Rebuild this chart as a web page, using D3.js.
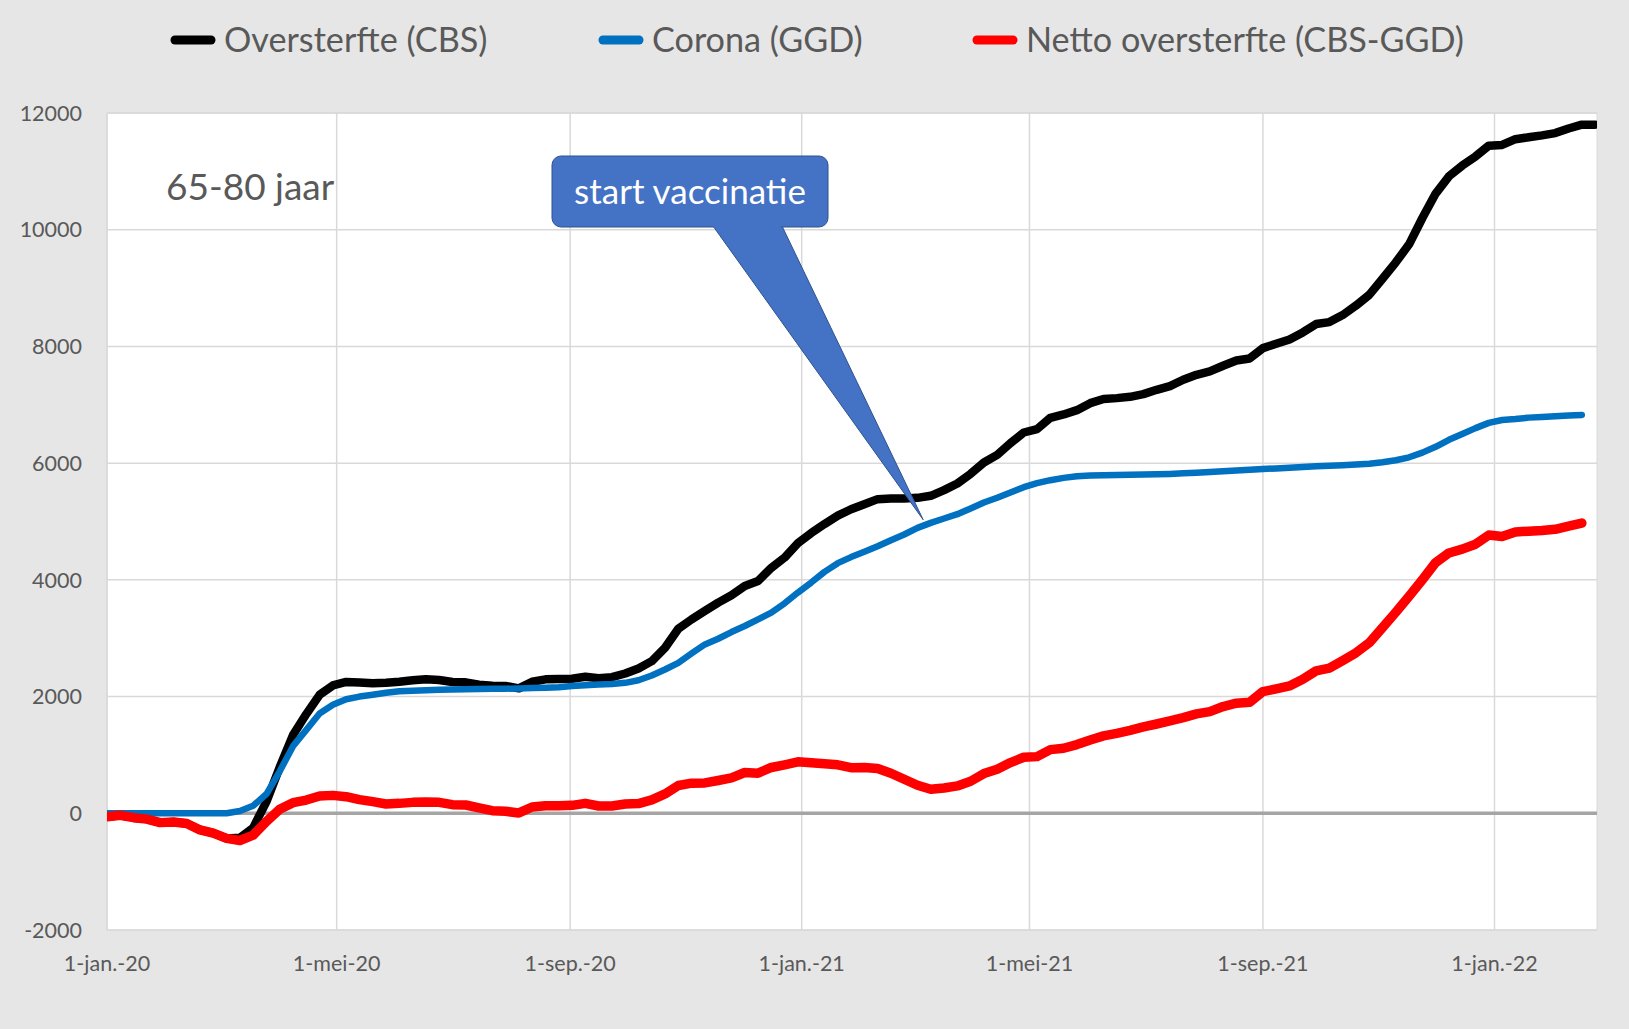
<!DOCTYPE html>
<html>
  <head>
    <meta charset="utf-8">
    <title>Oversterfte 65-80 jaar</title>
    <script src="https://d3js.org/d3.v7.min.js"></script>
    <style>
      body { margin: 0; background-color: #e6e6e6; }
      text { font-family: Lato, "Open Sans", sans-serif; }
    </style>
  </head>
  <body>
    <div id="my_dataviz"></div>
    <script>

      // weekly values, first week starts 1 jan 2020
      var startDate = Date.UTC(2020, 0, 1);

      var oversterfte = [-60, -35, -75, -100, -160, -150, -175, -285, -340, -430,
        -420, -250, 200, 790, 1340, 1700, 2030, 2190, 2250, 2240,
        2227, 2238, 2255, 2278, 2295, 2283, 2249, 2244, 2204, 2187,
        2181, 2141, 2255, 2295, 2300, 2306, 2340, 2315, 2332, 2395,
        2481, 2607, 2836, 3163, 3323, 3467, 3610, 3736, 3896, 3982,
        4206, 4383, 4630, 4802, 4956, 5100, 5210, 5297, 5383, 5394,
        5394, 5405, 5440, 5537, 5651, 5817, 6011, 6142, 6343, 6525,
        6583, 6777, 6834, 6908, 7028, 7100, 7114, 7137, 7183, 7257,
        7320, 7429, 7514, 7571, 7669, 7760, 7794, 7971, 8046, 8120,
        8240, 8383, 8417, 8537, 8700, 8884, 9159, 9441, 9750, 10200,
        10620, 10915, 11099, 11256, 11440, 11453, 11551, 11584, 11617, 11656,
        11735, 11800, 11800];

      var corona = [0, 0, 0, 0, 0, 0, 0, 0, 0, 0,
        40, 130, 330, 720, 1150, 1430, 1710, 1860, 1955, 2000,
        2030, 2065, 2090, 2100, 2110, 2115, 2120, 2125, 2130, 2135,
        2135, 2140, 2145, 2150, 2160, 2180, 2195, 2205, 2215, 2235,
        2280, 2361, 2464, 2578, 2739, 2894, 2991, 3106, 3209, 3323,
        3438, 3598, 3782, 3954, 4137, 4286, 4390, 4480, 4575, 4680,
        4777, 4891, 4977, 5051, 5126, 5223, 5325, 5406, 5497, 5588,
        5657, 5708, 5748, 5777, 5790, 5792, 5795, 5800, 5805, 5810,
        5815, 5825, 5835, 5850, 5860, 5875, 5885, 5900, 5910, 5920,
        5935, 5945, 5955, 5965, 5975, 5990, 6015, 6050, 6100, 6180,
        6280, 6400, 6500, 6600, 6690, 6740, 6755, 6780, 6790, 6805,
        6815, 6825];

      var netto = [-60, -35, -75, -100, -160, -150, -175, -285, -340, -430,
        -466, -375, -140, 68, 182, 227, 295, 307, 284, 235,
        199, 159, 170, 187, 193, 187, 148, 142, 91, 45,
        34, 6, 108, 130, 130, 136, 170, 125, 126, 160,
        166, 229, 332, 476, 516, 521, 562, 607, 699, 688,
        785, 831, 882, 865, 848, 831, 781, 783, 766, 686,
        583, 480, 411, 434, 469, 549, 680, 754, 869, 960,
        971, 1091, 1114, 1177, 1257, 1326, 1370, 1420, 1480, 1530,
        1583, 1640, 1703, 1743, 1829, 1886, 1903, 2086, 2132, 2183,
        2297, 2440, 2486, 2617, 2750, 2921, 3183, 3445, 3720, 4002,
        4297, 4461, 4526, 4611, 4768, 4742, 4821, 4834, 4847, 4867,
        4919, 4972];

      var seriesNames = ["Oversterfte (CBS)", "Corona (GGD)", "Netto oversterfte (CBS-GGD)"];
      var seriesColors = ["#000000", "#0070c0", "#ff0000"];

      var xTickDates = [Date.UTC(2020, 0, 1), Date.UTC(2020, 4, 1), Date.UTC(2020, 8, 1),
        Date.UTC(2021, 0, 1), Date.UTC(2021, 4, 1), Date.UTC(2021, 8, 1), Date.UTC(2022, 0, 1)];
      var xTickLabels = ["1-jan.-20", "1-mei-20", "1-sep.-20", "1-jan.-21", "1-mei-21", "1-sep.-21", "1-jan.-22"];
      var yTicks = [-2000, 0, 2000, 4000, 6000, 8000, 10000, 12000];

      var groupLabel = "65-80 jaar";
      var calloutText = "start vaccinatie";
      var calloutDate = Date.UTC(2021, 2, 6);
      var calloutValue = 5030;

      // set the dimensions and margins of the graph
      var W = 1629, H = 1029;
      var plot = {left: 107, right: 1597, top: 113, bottom: 930};

      var svg = d3.select("#my_dataviz")
        .append("svg")
          .attr("width", W)
          .attr("height", H);

      svg.append("rect")
        .attr("width", W).attr("height", H)
        .attr("fill", "#e6e6e6");

      var x = d3.scaleUtc()
        .domain([new Date(startDate), new Date(Date.UTC(2022, 1, 24))])
        .range([plot.left, plot.right]);

      var y = d3.scaleLinear()
        .domain([-2000, 12000])
        .range([plot.bottom, plot.top]);

      function dateOf(i) { return d3.utcDay.offset(new Date(startDate), 7 * i); }

      // plot area
      svg.append("rect")
        .attr("x", plot.left).attr("y", plot.top)
        .attr("width", plot.right - plot.left).attr("height", plot.bottom - plot.top)
        .attr("fill", "#ffffff")
        .attr("stroke", "#d9d9d9")
        .attr("stroke-width", 1);

      // gridlines
      svg.append("g")
        .selectAll("line")
        .data(yTicks)
        .join("line")
          .attr("x1", plot.left).attr("x2", plot.right)
          .attr("y1", function(d) { return y(d); })
          .attr("y2", function(d) { return y(d); })
          .attr("stroke", "#d9d9d9")
          .attr("stroke-width", 1.5);

      svg.append("g")
        .selectAll("line")
        .data(xTickDates)
        .join("line")
          .attr("x1", function(d) { return x(new Date(d)); })
          .attr("x2", function(d) { return x(new Date(d)); })
          .attr("y1", plot.top).attr("y2", plot.bottom)
          .attr("stroke", "#d9d9d9")
          .attr("stroke-width", 1.5);

      // zero line
      svg.append("line")
        .attr("x1", plot.left).attr("x2", plot.right)
        .attr("y1", y(0)).attr("y2", y(0))
        .attr("stroke", "#a5a5a5")
        .attr("stroke-width", 3.5);

      // y axis labels
      svg.append("g")
        .selectAll("text")
        .data(yTicks)
        .join("text")
          .attr("x", plot.left - 25)
          .attr("y", function(d) { return y(d); })
          .attr("dy", "0.36em")
          .attr("text-anchor", "end")
          .attr("font-size", 21.5)
          .attr("fill", "#595959")
          .text(function(d) { return d; });

      // x axis labels
      svg.append("g")
        .selectAll("text")
        .data(xTickDates)
        .join("text")
          .attr("x", function(d) { return x(new Date(d)); })
          .attr("y", 963)
          .attr("dy", "0.36em")
          .attr("text-anchor", "middle")
          .attr("font-size", 21.5)
          .attr("fill", "#595959")
          .text(function(d, i) { return xTickLabels[i]; });

      // clip the lines to the plot area
      svg.append("defs").append("clipPath")
        .attr("id", "clip")
        .append("rect")
          .attr("x", plot.left).attr("y", plot.top)
          .attr("width", plot.right - plot.left).attr("height", plot.bottom - plot.top);

      var line = d3.line()
        .x(function(d, i) { return x(dateOf(i)); })
        .y(function(d) { return y(d); });

      var series = [oversterfte, corona, netto];
      var widths = [8.5, 6.5, 9.5];

      svg.append("g")
        .attr("clip-path", "url(#clip)")
        .selectAll("path")
        .data(series)
        .join("path")
          .attr("fill", "none")
          .attr("stroke", function(d, i) { return seriesColors[i]; })
          .attr("stroke-width", function(d, i) { return widths[i]; })
          .attr("stroke-linejoin", "round")
          .attr("stroke-linecap", "round")
          .attr("d", line);

      // group label
      svg.append("text")
        .attr("x", 166)
        .attr("y", 200)
        .attr("font-size", 37)
        .attr("fill", "#595959")
        .text(groupLabel);

      // callout
      var tipX = x(new Date(calloutDate)), tipY = y(calloutValue);
      var box = {x: 552, y: 156, w: 276, h: 71, r: 9};
      var callout = svg.append("g");
      callout.append("path")
        .attr("d", "M" + (box.x + 161) + "," + (box.y + box.h - 1) +
                   "L" + tipX + "," + tipY +
                   "L" + (box.x + 230) + "," + (box.y + box.h - 1) + "Z")
        .attr("fill", "#4472c4")
        .attr("stroke", "#2f528f")
        .attr("stroke-width", 1);
      callout.append("rect")
        .attr("x", box.x).attr("y", box.y)
        .attr("width", box.w).attr("height", box.h)
        .attr("rx", box.r)
        .attr("fill", "#4472c4")
        .attr("stroke", "#2f528f")
        .attr("stroke-width", 1);
      // cover the seam between box and pointer
      callout.append("rect")
        .attr("x", box.x + 162).attr("y", box.y + box.h - 3)
        .attr("width", 67).attr("height", 4)
        .attr("fill", "#4472c4");
      callout.append("text")
        .attr("x", box.x + box.w / 2)
        .attr("y", box.y + box.h / 2)
        .attr("dy", "0.35em")
        .attr("text-anchor", "middle")
        .attr("font-size", 35)
        .attr("fill", "#ffffff")
        .text(calloutText);

      // legend
      var legendX = [171, 599, 973];
      var legend = svg.append("g")
        .selectAll("g")
        .data(seriesNames)
        .join("g")
          .attr("transform", function(d, i) { return "translate(" + legendX[i] + ",40)"; });
      legend.append("line")
        .attr("x1", 4).attr("x2", 40)
        .attr("stroke", function(d, i) { return seriesColors[i]; })
        .attr("stroke-width", 9)
        .attr("stroke-linecap", "round");
      legend.append("text")
        .attr("x", 53)
        .attr("dy", "0.36em")
        .attr("font-size", 34.2)
        .attr("fill", "#595959")
        .text(function(d) { return d; });

    </script>
  </body>
</html>
